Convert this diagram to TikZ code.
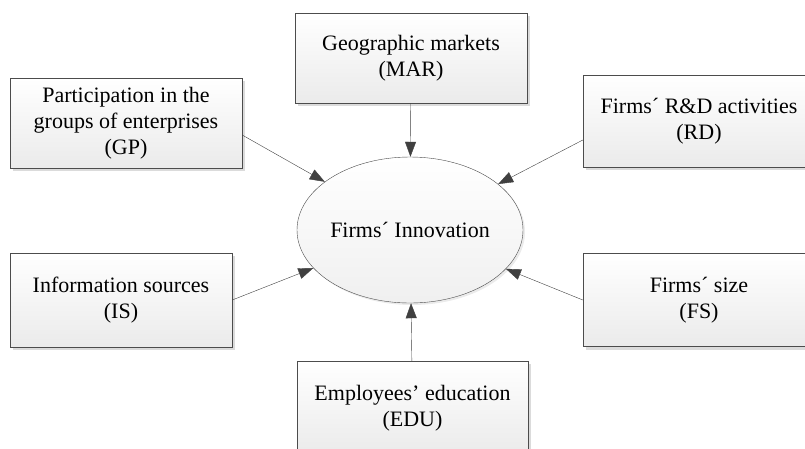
\documentclass[tikz,border=0pt]{standalone}
\usepackage{fontspec}
\setmainfont{Liberation Serif}
\usetikzlibrary{shapes.geometric,shadows,arrows.meta}

\begin{document}
\begin{tikzpicture}[
    x=1pt, y=-1pt,
    factor/.style={draw=black!70, thin, top color=white, bottom color=black!8, align=center,
      font=\fontsize{22}{26}\selectfont, inner sep=0pt,
      drop shadow={shadow xshift=3pt, shadow yshift=-3pt, opacity=0.35, fill=black!40}},
    effect/.style={draw=black!70, thin, ellipse, top color=white, bottom color=black!6, inner sep=0pt,
      font=\fontsize{22}{26}\selectfont, minimum width=226pt, minimum height=146pt,
      drop shadow={shadow xshift=2pt, shadow yshift=-2pt, opacity=0.2, fill=black!40}},
    link/.style={draw=black!75, thin, -{Triangle[length=15pt, width=11pt]}}
  ]

\useasboundingbox (0,0) rectangle (805,448);
\clip (0,0) rectangle (805,448);

% Central node
\node[effect] (inno) at (410,230) {Firms´ Innovation};

% Determinants
\node[factor, minimum width=232pt, minimum height=90pt] (gp) at (126,123)
  {Participation in the\\groups of enterprises\\(GP)};
\node[factor, minimum width=232pt, minimum height=90pt] (mar) at (411,58)
  {Geographic markets\\(MAR)};
\node[factor, minimum width=232pt, minimum height=92pt] (rd) at (699,121)
  {Firms´ R\&D activities\\(RD)};
\node[factor, minimum width=222pt, minimum height=94pt] (is) at (121,300)
  {Information sources\\(IS)};
\node[factor, minimum width=232pt, minimum height=93pt] (fs) at (699,300)
  {Firms´ size\\(FS)};
\node[factor, minimum width=231pt, minimum height=94pt] (edu) at (412.5,408)
  {Employees’ education\\(EDU)};

% Arrows into the central node
\draw[link] (gp.east) ++(0,12) -- (inno);
\draw[link] (mar) -- (inno);
\draw[link] (rd.west) ++(0,19) -- (inno);
\draw[link] (is.east) -- (inno);
\draw[link] (fs.west) -- (inno);
\draw[link] (edu) -- (inno);

\end{tikzpicture}
\end{document}
